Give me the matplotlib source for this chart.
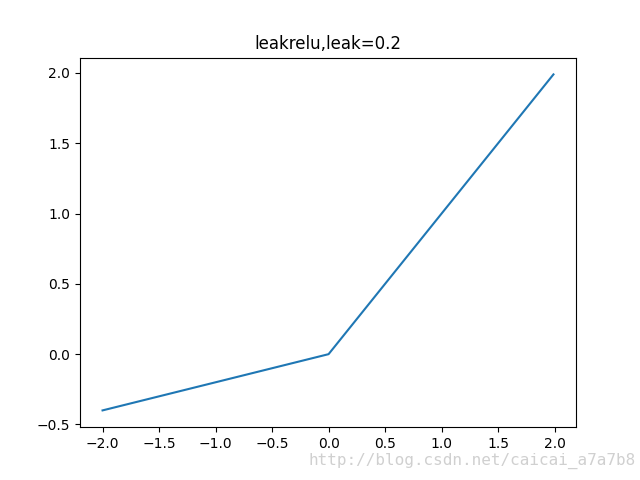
import matplotlib
matplotlib.use('Agg')
import matplotlib.pyplot as plt

# leaky relu with leak=0.2, corner points of the curve
x_vals = [-2.0, 0.0, 1.99]
y_vals = [-0.4, 0.0, 1.99]
title = 'leakrelu,leak=0.2'
watermark = 'http://blog.csdn.net/caicai_a7a7b8'

fig = plt.figure(figsize=(6.4, 4.8), dpi=100)
ax = fig.add_subplot(111)
ax.plot(x_vals, y_vals)
ax.set_title(title)

# faint blog watermark in the bottom right corner
fig.text(0.482, 0.022, watermark, color='#d0d0d0', fontsize=11.5,
         family='DejaVu Sans Mono', ha='left', va='bottom')

fig.savefig('out.png')
